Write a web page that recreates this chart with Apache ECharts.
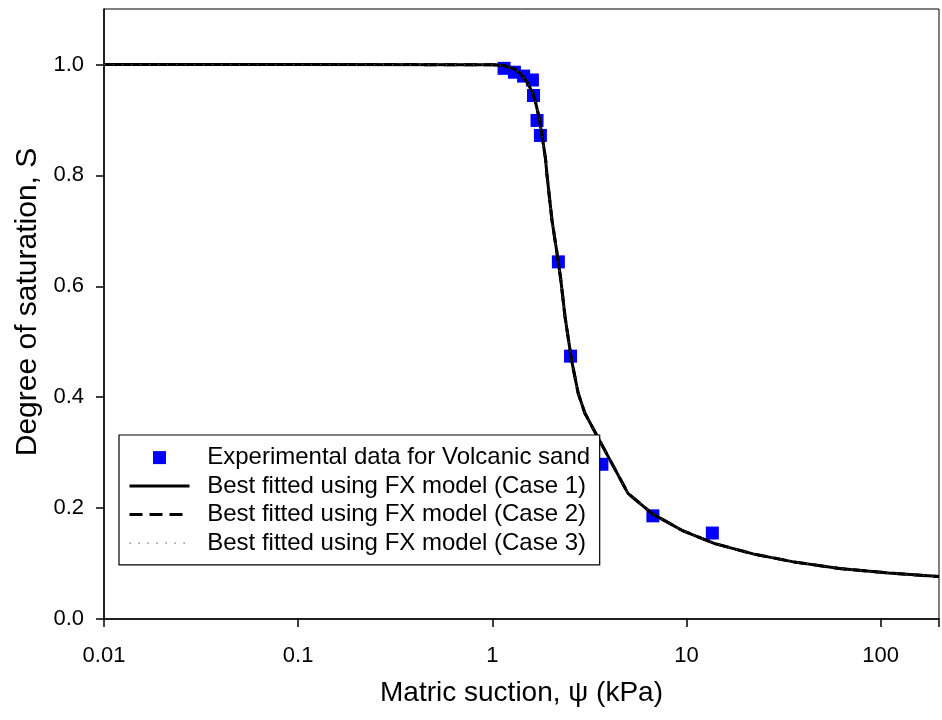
<!DOCTYPE html>
<html>
<head>
<meta charset="utf-8">
<script src="https://cdn.jsdelivr.net/npm/echarts@6/dist/echarts.min.js"></script>
<style>
html,body{margin:0;padding:0;background:#fff;}
#chart{width:942px;height:720px;}
</style>
</head>
<body>
<div id="chart"></div>
<script>
// ---- data ----
const expSuction = [1.15, 1.30, 1.45, 1.61, 1.63, 1.70, 1.77, 2.19, 2.53, 3.67, 6.72, 13.6];
const expSaturation = [0.993, 0.986, 0.979, 0.972, 0.944, 0.899, 0.872, 0.644, 0.474, 0.279, 0.186, 0.155];

const fitSuction = [0.01, 0.1, 1.0, 1.15, 1.30, 1.40, 1.51, 1.61, 1.67, 1.74, 1.81, 1.88, 1.91, 2.03, 2.15, 2.25, 2.37, 2.56, 2.77, 3.0, 5.0, 6.66, 9.47, 14.0, 22.3, 35.6, 61.5, 110, 200];
const fitSaturation = [1.0, 1.0, 0.9995, 0.998, 0.992, 0.983, 0.968, 0.950, 0.932, 0.905, 0.869, 0.830, 0.803, 0.719, 0.662, 0.614, 0.545, 0.467, 0.407, 0.371, 0.2265, 0.190, 0.160, 0.136, 0.117, 0.103, 0.091, 0.083, 0.0765];

const xTickValues = [0.01, 0.1, 1, 10, 100];
const xTickLabels = ['0.01', '0.1', '1', '10', '100'];
const yTickValues = [0, 0.2, 0.4, 0.6, 0.8, 1.0];

const seriesNames = [
  'Experimental data for Volcanic sand',
  'Best fitted using FX model (Case 1)',
  'Best fitted using FX model (Case 2)',
  'Best fitted using FX model (Case 3)'
];

// ---- chart ----
const FONT = "'Liberation Sans', Arial, Helvetica, sans-serif";
const xMin = 0.01, xMax = 200;
const decadePx = 196.9;

const expData = expSuction.map((x, i) => [x, expSaturation[i]]);
const fitData = fitSuction.map((x, i) => [x, fitSaturation[i]]);

const chart = echarts.init(document.getElementById('chart'), null, {renderer: 'canvas'});

const hiddenSymbol = {color: 'rgba(0,0,0,0)', borderWidth: 0, opacity: 0};

const option = {
  animation: false,
  backgroundColor: '#ffffff',
  textStyle: {fontFamily: FONT, color: '#000'},
  grid: {
    left: 104, top: 9, height: 610,
    width: decadePx * (Math.log10(xMax) - Math.log10(xMin)),
    show: true, borderColor: '#000', borderWidth: 1, backgroundColor: 'transparent'
  },
  xAxis: {
    type: 'log', logBase: 10, min: xMin, max: xMax,
    name: 'Matric suction, \u03C8 (kPa)',
    nameLocation: 'middle', nameGap: 60,
    nameTextStyle: {fontSize: 28, color: '#000', fontFamily: FONT},
    axisLine: {show: true, lineStyle: {color: '#000', width: 1.5}},
    axisTick: {show: true, inside: false, length: 8, lineStyle: {color: '#000', width: 1.5}},
    minorTick: {show: false},
    splitLine: {show: false},
    axisLabel: {
      fontSize: 22, color: '#000', fontFamily: FONT, margin: 26,
      formatter: function (v) {
        for (let i = 0; i < xTickValues.length; i++) {
          if (Math.abs(Math.log10(v) - Math.log10(xTickValues[i])) < 1e-6) return xTickLabels[i];
        }
        return '';
      }
    }
  },
  yAxis: {
    type: 'value', min: 0, max: 1.1, interval: 0.2,
    name: 'Degree of saturation, S',
    nameLocation: 'middle', nameGap: 56,
    nameTextStyle: {fontSize: 30, color: '#000', fontFamily: FONT, padding: [0, 0, 0, 24]},
    axisLine: {show: true, lineStyle: {color: '#000', width: 1.5}},
    axisTick: {show: true, inside: false, length: 8, lineStyle: {color: '#000', width: 1.5}, customValues: yTickValues},
    splitLine: {show: false},
    axisLabel: {
      fontSize: 22, color: '#000', fontFamily: FONT, margin: 20,
      customValues: yTickValues,
      formatter: function (v) { return Number(v).toFixed(1); }
    }
  },
  legend: {
    orient: 'vertical', left: 119, top: 435,
    padding: [10.6, 9.6, 9.7, 9],
    itemWidth: 60, itemHeight: 13, itemGap: 4.5,
    symbolKeepAspect: true,
    backgroundColor: '#fff', borderColor: '#000', borderWidth: 1.2,
    textStyle: {fontSize: 24, color: '#000', fontFamily: FONT, lineHeight: 24, padding: [0, 0, 0, 12.7]},
    data: [
      {name: seriesNames[0], icon: 'path://M0,0H10V10H0Z'},
      {name: seriesNames[1], itemStyle: hiddenSymbol, lineStyle: {width: 3, color: '#000', type: 'solid'}},
      {name: seriesNames[2], itemStyle: hiddenSymbol, lineStyle: {width: 3, color: '#000', type: [13, 7]}},
      {name: seriesNames[3], itemStyle: hiddenSymbol, lineStyle: {width: 1.2, color: '#555', type: [1.2, 7.8]}}
    ]
  },
  series: [
    {
      name: seriesNames[0], type: 'scatter', data: expData,
      symbol: 'rect', symbolSize: 13,
      itemStyle: {color: '#0000ff', opacity: 1}
    },
    {
      name: seriesNames[1], type: 'line', data: fitData,
      showSymbol: false, symbol: 'none',
      lineStyle: {color: '#000', width: 3, type: 'solid'},
      itemStyle: {color: '#000'}
    },
    {
      name: seriesNames[2], type: 'line', data: fitData,
      showSymbol: false, symbol: 'none',
      lineStyle: {color: '#000', width: 3, type: [13, 7]},
      itemStyle: {color: '#000'}
    },
    {
      name: seriesNames[3], type: 'line', data: fitData,
      showSymbol: false, symbol: 'none',
      lineStyle: {color: '#555', width: 1.2, type: [1.2, 7.8]},
      itemStyle: {color: '#555'}
    }
  ]
};

chart.setOption(option);
</script>
</body>
</html>
